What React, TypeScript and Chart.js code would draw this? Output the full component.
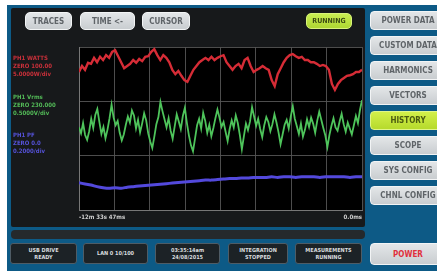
import React, { useEffect, useRef } from "react";
import { Chart, registerables } from "chart.js";

Chart.register(...registerables);

// ---- data ----
const WINDOW_START_S = -753.47; // left edge of the history window, seconds
const xTickLabelLeft = "-12m 33s 47ms";
const xTickLabelRight = "0.0ms";
const xGridDivisions = 8;
const yMin = 0;
const yMax = 30;
const yStep = 10;

const redSeries = [
  25.4, 26.5, 25.8, 27.1, 26.9, 28.0, 27.2, 28.2, 27.6, 28.5, 28.0, 29.1, 29.4, 28.3, 27.2, 26.1,
  26.5, 26.9, 27.6, 27.1, 27.8, 27.4, 28.2, 28.3, 29.1, 29.6, 28.5, 27.6, 28.5, 28.0, 27.2, 25.8,
  25.0, 25.6, 24.7, 23.9, 23.6, 24.7, 25.8, 26.5, 27.2, 27.6, 28.0, 27.6, 28.2, 27.6, 28.0, 28.3,
  28.5, 27.2, 26.5, 25.8, 26.5, 26.9, 26.1, 27.6, 28.0, 26.5, 25.4, 25.8, 26.1, 26.5, 26.1, 25.8,
  23.9, 22.8, 25.0, 26.1, 27.2, 28.0, 28.5, 28.7, 28.3, 28.0, 28.2, 27.6, 27.6, 27.2, 27.2, 26.9,
  26.5, 26.7, 26.5, 25.8, 23.2, 22.1, 23.2, 23.9, 24.3, 24.7, 24.8, 25.0, 25.4, 25.4, 25.8,
];

const greenSeries = [
  15.2, 14.1, 16.0, 13.8, 12.9, 14.5, 16.8, 15.1, 17.5, 18.6, 16.2, 14.0, 15.3, 13.2, 14.8, 16.9,
  19.4, 17.0, 15.6, 16.4, 14.2, 12.8, 13.9, 15.7, 17.2, 16.1, 18.3, 17.4, 15.0, 16.6, 14.3, 15.9,
  17.8, 16.5, 14.1, 12.6, 11.4, 13.5, 15.8, 17.1, 19.9, 18.2, 16.7, 15.2, 16.9, 14.6, 13.1, 15.4,
  17.6, 16.3, 14.9, 17.3, 18.8, 16.0, 13.7, 11.9, 10.8, 13.2, 15.6, 16.8, 15.0, 17.9, 16.4, 14.2,
  15.7, 13.6, 15.1, 16.9, 18.5, 17.0, 15.3, 16.2, 14.4, 12.7, 14.9, 16.5, 15.2, 17.4, 16.0, 13.8,
  11.2, 13.6, 15.9, 14.7, 16.3, 18.9, 17.2, 15.5, 16.8, 14.9, 13.4, 15.6, 17.1, 16.2, 14.5, 15.8,
  17.6, 16.1, 14.3, 12.1, 13.9, 15.7, 16.6, 15.0, 17.2, 19.1, 16.8, 15.4, 14.0, 15.9, 13.5, 14.8,
  16.7, 15.3, 17.0, 15.9, 14.2, 16.4, 18.1, 16.6, 15.1, 13.7, 11.6, 13.8, 15.5, 16.9, 15.2, 14.6,
  16.3, 17.7, 15.8, 14.4, 16.1, 15.0, 13.9, 15.6, 17.3, 16.0, 18.4, 20.2,
];

const blueSeries = [
  5.0, 4.8, 4.6, 4.3, 4.1, 4.0, 4.1, 4.0, 4.2, 4.3, 4.4, 4.5, 4.6, 4.7, 4.8, 4.9, 5.0, 5.1, 5.2,
  5.3, 5.4, 5.5, 5.5, 5.6, 5.7, 5.8, 5.8, 5.9, 5.9, 6.0, 6.0, 6.0, 6.1, 6.0, 6.1, 6.1, 6.0, 6.1,
  6.1, 6.1, 6.0, 6.1, 6.1, 6.1, 6.1, 6.0, 6.1, 6.1,
];

const redLabels = ["PH1 WATTS", "ZERO 100.00", "5.0000W/div"];
const greenLabels = ["PH1 Vrms", "ZERO 230.000", "0.5000V/div"];
const blueLabels = ["PH1 PF", "ZERO 0.0", "0.2000/div"];

const topButtons = ["TRACES", "TIME <-", "CURSOR"];
const statusLabel = "RUNNING";
const sideButtons = [
  "POWER DATA",
  "CUSTOM DATA",
  "HARMONICS",
  "VECTORS",
  "HISTORY",
  "SCOPE",
  "SYS CONFIG",
  "CHNL CONFIG",
];
const activeSideButton = "HISTORY";
const bottomButtons = [
  ["USB DRIVE", "READY"],
  ["LAN 0 10/100"],
  ["03:35:14am", "24/08/2015"],
  ["INTEGRATION", "STOPPED"],
  ["MEASUREMENTS", "RUNNING"],
];
const powerLabel = "POWER";

// ---- helpers ----
const toPoints = (vals: number[]) =>
  vals.map((v, i) => ({ x: WINDOW_START_S + (i * -WINDOW_START_S) / (vals.length - 1), y: v }));

const FONT = "'DejaVu Sans Condensed', 'DejaVu Sans', 'Liberation Sans', sans-serif";

const abs = (l: number, t: number, w: number, h: number): React.CSSProperties => ({
  position: "absolute",
  left: l,
  top: t,
  width: w,
  height: h,
  boxSizing: "border-box",
});

export default function App() {
  const ref = useRef<HTMLCanvasElement | null>(null);

  useEffect(() => {
    if (!ref.current) return;
    const plotBg = {
      id: "plotBg",
      beforeDraw(c: any) {
        const { ctx, chartArea } = c;
        ctx.save();
        ctx.fillStyle = "#000";
        ctx.fillRect(chartArea.left, chartArea.top, chartArea.right - chartArea.left, chartArea.bottom - chartArea.top);
        ctx.restore();
      },
    };
    const chart = new Chart(ref.current, {
      type: "line",
      data: {
        datasets: [
          { data: toPoints(blueSeries), borderColor: "#5349dc", borderWidth: 3, pointRadius: 0, tension: 0.2 },
          { data: toPoints(greenSeries), borderColor: "#4ec45b", borderWidth: 1.8, pointRadius: 0, tension: 0 },
          { data: toPoints(redSeries), borderColor: "#d62c36", borderWidth: 2.4, pointRadius: 0, tension: 0 },
        ],
      },
      options: {
        animation: false,
        responsive: false,
        maintainAspectRatio: false,
        layout: { padding: { left: 79, top: 47, right: 75, bottom: 0 } },
        plugins: { legend: { display: false }, tooltip: { enabled: false } },
        scales: {
          x: {
            type: "linear",
            min: WINDOW_START_S,
            max: 0,
            afterBuildTicks: (s: any) => {
              const t = [];
              for (let k = 0; k <= xGridDivisions; k++)
                t.push({ value: WINDOW_START_S + (k * -WINDOW_START_S) / xGridDivisions });
              s.ticks = t;
            },
            afterFit: (s: any) => {
              s.height = 20;
            },
            ticks: {
              autoSkip: false,
              maxRotation: 0,
              align: "inner",
              padding: 4,
              color: "#d0d0d0",
              font: { family: FONT, size: 6, weight: "bold" },
              callback: (_v: any, i: number) =>
                i === 0 ? xTickLabelLeft : i === xGridDivisions ? xTickLabelRight : "",
            },
            grid: { color: "rgba(85,85,85,0.9)", lineWidth: 1, drawTicks: false },
            border: { color: "#777", width: 1 },
          },
          y: {
            min: yMin,
            max: yMax,
            afterFit: (s: any) => {
              s.width = 0;
            },
            ticks: { display: false, stepSize: yStep },
            grid: { color: "rgba(85,85,85,0.9)", lineWidth: 1, drawTicks: false },
            border: { color: "#777", width: 1 },
          },
        },
      },
      plugins: [plotBg],
    });
    return () => chart.destroy();
  }, []);

  const lightBtn: React.CSSProperties = {
    background: "linear-gradient(#e3e6e8, #c9cdd0)",
    border: "1px solid #f2f4f5",
    borderRadius: 5,
    color: "#5f6468",
    fontFamily: FONT,
    fontWeight: "bold",
    fontSize: 8,
    display: "flex",
    alignItems: "center",
    justifyContent: "center",
    whiteSpace: "nowrap",
    overflow: "hidden",
  };

  const labelBlock = (lines: string[], top: number, color: string) => (
    <div style={{ ...abs(13, top, 62, 26), color, fontFamily: FONT, fontSize: 6, lineHeight: "8px", fontWeight: "bold" }}>
      {lines.map((l) => (
        <div key={l}>{l}</div>
      ))}
    </div>
  );

  const bottomX = [
    [10, 67],
    [83, 65],
    [155, 65],
    [228, 60],
    [295, 67],
  ];

  return (
    <div
      style={{
        position: "fixed",
        left: 0,
        top: 0,
        width: 437,
        height: 271,
        overflow: "hidden",
        background: "#fff",
        filter: "blur(0.35px)",
      }}
    >
      {/* blue frame */}
      <div style={{ ...abs(7, 5, 440, 270), background: "#0d5a86" }} />
      {/* main dark panel */}
      <div style={{ ...abs(11, 8, 354, 219), background: "#17191b", borderRadius: 2 }} />
      {/* scroll strip */}
      <div style={{ ...abs(11, 230, 354, 9), background: "#25292c", borderRadius: 4 }} />

      <canvas ref={ref} width={437} height={230} style={{ position: "absolute", left: 0, top: 0, width: 437, height: 230 }} />

      {/* top buttons */}
      {topButtons.map((t, i) => {
        const pos = [
          [25, 47],
          [80, 55],
          [142, 48],
        ][i];
        return (
          <div key={t} style={{ ...abs(pos[0], 12, pos[1], 18), ...lightBtn }}>
            {t}
          </div>
        );
      })}
      <div
        style={{
          ...abs(306, 13, 46, 16),
          ...lightBtn,
          background: "linear-gradient(#c9ee52, #aed632)",
          border: "1px solid #d8f37a",
          color: "#3b4a12",
          fontSize: 7,
        }}
      >
        {statusLabel}
      </div>

      {/* trace labels */}
      {labelBlock(redLabels, 54, "#c8303a")}
      {labelBlock(greenLabels, 93, "#52b857")}
      {labelBlock(blueLabels, 131, "#5552d8")}

      {/* right side buttons */}
      {sideButtons.map((t, i) => (
        <div
          key={t}
          style={{
            ...abs(370, 11 + i * 25, 76, 19),
            ...lightBtn,
            borderRadius: 4,
            ...(t === activeSideButton
              ? { background: "linear-gradient(#d2f04a, #b6da2c)", border: "1px solid #e0f58a", color: "#4a5a10" }
              : {}),
          }}
        >
          {t}
        </div>
      ))}

      {/* bottom status buttons */}
      {bottomButtons.map((lines, i) => (
        <div
          key={lines[0]}
          style={{
            ...abs(bottomX[i][0], 243, bottomX[i][1], 21),
            background: "#1c2226",
            border: "1px solid #4e5c66",
            borderRadius: 3,
            color: "#d8dcdf",
            fontFamily: FONT,
            fontWeight: "bold",
            fontSize: 5.5,
            lineHeight: "7px",
            display: "flex",
            flexDirection: "column",
            alignItems: "center",
            justifyContent: "center",
            whiteSpace: "nowrap",
          }}
        >
          {lines.map((l) => (
            <div key={l}>{l}</div>
          ))}
        </div>
      ))}
      <div style={{ ...abs(370, 243, 76, 22), ...lightBtn, borderRadius: 4, color: "#e0303c", fontSize: 8 }}>{powerLabel}</div>
    </div>
  );
}
